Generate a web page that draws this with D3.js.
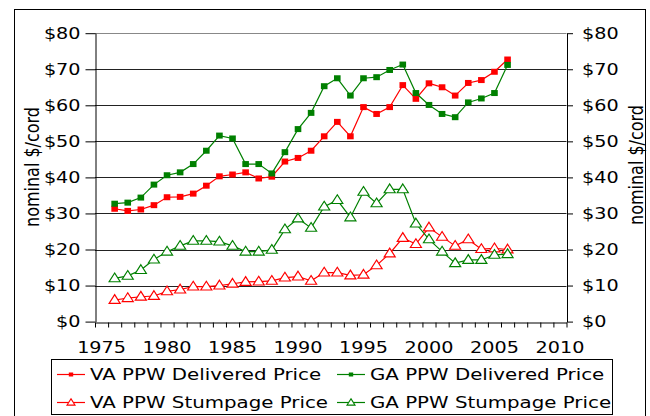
<!DOCTYPE html>
<html>
<head>
<meta charset="utf-8">
<script src="https://cdn.jsdelivr.net/npm/d3@7"></script>
<style>
  body { margin: 0; background: #fff; }
  svg { display: block; font-family: "DejaVu Sans", Verdana, sans-serif; }
</style>
</head>
<body>
<div id="chart"></div>
<script>
// years 1976 - 2006
var years = d3.range(1976, 2007);

var vaDelivered = [31.3, 30.7, 31.1, 32.3, 34.5, 34.6, 35.5, 37.7, 40.3, 40.8, 41.4, 39.7, 40.2, 44.4, 45.4, 47.4,
  51.4, 55.4, 51.4, 59.5, 57.6, 59.5, 65.6, 61.8, 66.1, 65.0, 62.7, 66.2, 67.0, 69.3, 72.7];
var gaDelivered = [32.7, 33.0, 34.4, 38.0, 40.6, 41.4, 43.7, 47.4, 51.6, 50.8, 43.7, 43.7, 41.1, 47.0, 53.4, 57.9,
  65.3, 67.5, 62.7, 67.5, 67.8, 69.8, 71.3, 63.4, 60.1, 57.6, 56.7, 60.8, 61.9, 63.4, 71.2];
var vaStumpage = [6.0, 6.5, 6.9, 7.1, 8.4, 8.9, 9.7, 9.7, 10.0, 10.5, 11.0, 11.1, 11.3, 12.2, 12.5, 11.3,
  13.6, 13.6, 12.8, 13.0, 15.6, 18.9, 23.2, 21.5, 26.1, 23.5, 21.0, 22.8, 20.1, 20.3, 20.0];
var gaStumpage = [12.0, 12.7, 14.3, 17.2, 19.4, 21.0, 22.4, 22.4, 22.2, 21.0, 19.4, 19.4, 19.9, 25.6, 28.6, 26.0,
  31.9, 33.7, 28.9, 36.0, 32.8, 36.7, 36.7, 27.2, 22.8, 19.4, 16.2, 17.1, 17.1, 18.5, 18.7];

var yTicks = [0, 10, 20, 30, 40, 50, 60, 70, 80];
var xLabels = [1975, 1980, 1985, 1990, 1995, 2000, 2005, 2010];

var series = [
  { name: "VA PPW Delivered Price", values: vaDelivered, color: "#ff0000", marker: "square" },
  { name: "GA PPW Delivered Price", values: gaDelivered, color: "#008000", marker: "square" },
  { name: "VA PPW Stumpage Price", values: vaStumpage, color: "#ff0000", marker: "triangle" },
  { name: "GA PPW Stumpage Price", values: gaStumpage, color: "#008000", marker: "triangle" }
];

var w = 650, h = 416;
var plotL = 95, plotR = 566.5, plotT = 33.2, plotB = 321.6;
var stretch = 1.2; // the original text is a bit wide

var svg = d3.select("#chart").append("svg")
  .attr("width", w)
  .attr("height", h);

// outer chart border
svg.append("rect")
  .attr("x", 14.5).attr("y", 9.5)
  .attr("width", 631).attr("height", 420)
  .attr("fill", "none").attr("stroke", "#000").attr("stroke-width", 1);

var x = d3.scaleLinear().domain([1974.5, 2010.5]).range([plotL, plotR]);
var y = d3.scaleLinear().domain([0, 80]).range([plotB, plotT]);

// gridlines
svg.append("g").selectAll("line")
  .data(yTicks.filter(function(d) { return d > 0; }))
  .enter().append("line")
  .attr("x1", plotL).attr("x2", plotR)
  .attr("y1", function(d) { return Math.round(y(d)) + 0.5; })
  .attr("y2", function(d) { return Math.round(y(d)) + 0.5; })
  .attr("stroke", function(d) { return d === 80 ? "#888" : "#222"; })
  .attr("stroke-width", 1);

// left axis
var yLeft = d3.axisLeft(y).tickValues(yTicks).tickSize(10).tickSizeOuter(0)
  .tickFormat(function(d) { return "$" + d; });
var gl = svg.append("g").attr("transform", "translate(" + (plotL + 0.5) + ",0)").call(yLeft);

// right axis
var yRight = d3.axisRight(y).tickValues(yTicks).tickSize(6).tickSizeOuter(0)
  .tickFormat(function(d) { return "$" + d; });
var gr = svg.append("g").attr("transform", "translate(" + (plotR + 0.5) + ",0)").call(yRight);

// bottom axis: minor ticks between years, labels every five years
var halfYears = d3.range(1974.5, 2011, 1);
var xAxis = d3.axisBottom(x).tickValues(halfYears).tickSize(5).tickSizeOuter(0).tickFormat("");
var gx = svg.append("g").attr("transform", "translate(0," + (Math.round(plotB) + 0.5) + ")").call(xAxis);

svg.append("g").selectAll("text")
  .data(xLabels)
  .enter().append("text")
  .attr("transform", function(d) { return "translate(" + x(d) + ",353) scale(" + stretch + ",1)"; })
  .attr("text-anchor", "middle")
  .attr("font-size", "16px")
  .attr("fill", "#000")
  .text(function(d) { return d; });

[gl, gr, gx].forEach(function(g) {
  g.selectAll(".domain").attr("stroke", "#000");
  g.selectAll(".tick line").attr("stroke", "#000");
  g.selectAll("text").attr("font-size", "16px").attr("fill", "#000")
    .attr("font-family", "DejaVu Sans, Verdana, sans-serif")
    .attr("transform", "scale(" + stretch + ",1)");
});
gl.selectAll(".tick text").attr("x", -15 / stretch);
gr.selectAll(".tick text").attr("x", 15 / stretch);

// axis titles
svg.append("text")
  .attr("transform", "translate(39,167) scale(" + stretch + ",1) rotate(-90)")
  .attr("text-anchor", "middle")
  .attr("font-size", "16px")
  .text("nominal $/cord");
svg.append("text")
  .attr("transform", "translate(643,165) scale(" + stretch + ",1) rotate(-90)")
  .attr("text-anchor", "middle")
  .attr("font-size", "16px")
  .text("nominal $/cord");

var line = d3.line()
  .x(function(d, i) { return x(years[i]); })
  .y(function(d) { return y(d); });

function drawMarker(g, type, color, cx, cy, s) {
  if (type === "square") {
    g.append("rect")
      .attr("x", cx - s * 0.55).attr("y", cy - s / 2)
      .attr("width", s * 1.1).attr("height", s)
      .attr("fill", color);
  } else {
    var tri = d3.symbol().type(d3.symbolTriangle).size(s * s * 0.9);
    g.append("path")
      .attr("d", tri())
      .attr("transform", "translate(" + cx + "," + (cy + 0.5) + ") scale(1.1,1)")
      .attr("fill", "#fff")
      .attr("stroke", color)
      .attr("stroke-width", 1.1);
  }
}

series.forEach(function(s) {
  var g = svg.append("g");
  g.append("path")
    .datum(s.values)
    .attr("d", line)
    .attr("fill", "none")
    .attr("stroke", s.color)
    .attr("stroke-width", 1.2);
  s.values.forEach(function(v, i) {
    drawMarker(g, s.marker, s.color, x(years[i]), y(v), s.marker === "square" ? 6 : 7);
  });
});

// legend
svg.append("rect")
  .attr("x", 51.5).attr("y", 359.5)
  .attr("width", 561).attr("height", 55)
  .attr("fill", "#fff").attr("stroke", "#000");

var legendPos = [
  { lx: 57, ty: 374.5 },
  { lx: 337, ty: 374.5 },
  { lx: 57, ty: 402.5 },
  { lx: 337, ty: 402.5 }
];

series.forEach(function(s, i) {
  var p = legendPos[i];
  var g = svg.append("g");
  g.append("line")
    .attr("x1", p.lx).attr("x2", p.lx + 28)
    .attr("y1", p.ty).attr("y2", p.ty)
    .attr("stroke", s.color).attr("stroke-width", 1.2);
  drawMarker(g, s.marker, s.color, p.lx + 14, p.ty, s.marker === "square" ? 4 : 5);
  g.append("text")
    .attr("transform", "translate(" + (p.lx + 33) + "," + p.ty + ") scale(" + stretch + ",1)")
    .attr("dy", "0.36em")
    .attr("font-size", "16.5px")
    .attr("fill", "#000")
    .text(s.name);
});
</script>
</body>
</html>
